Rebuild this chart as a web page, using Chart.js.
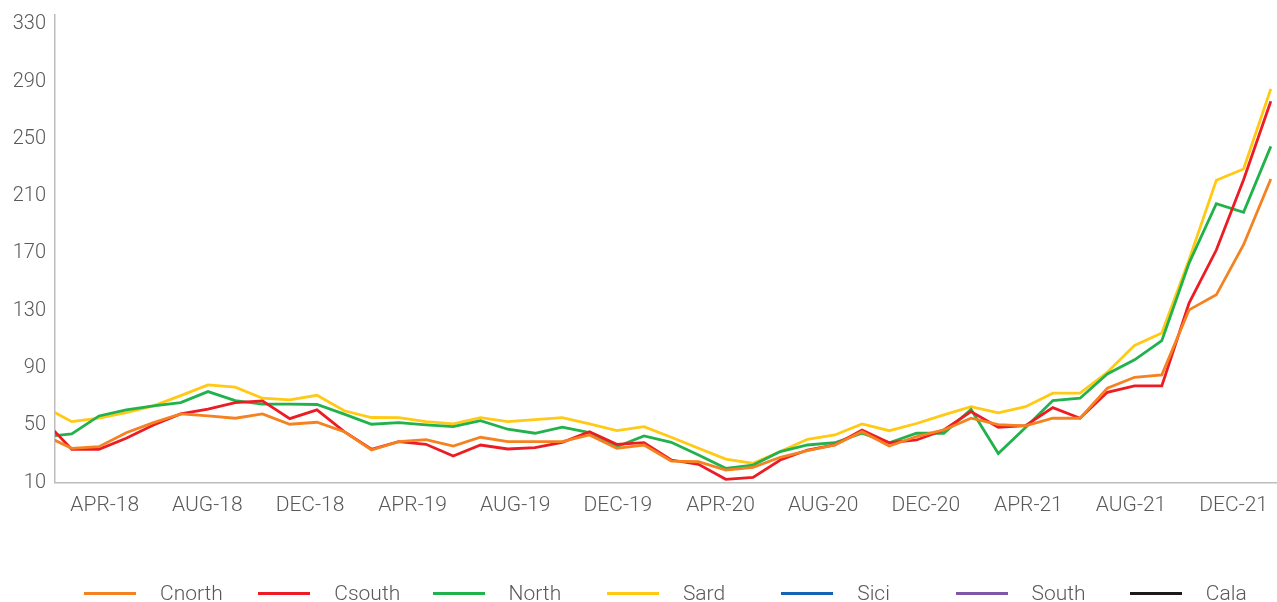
<!DOCTYPE html>
<html>
<head>
<meta charset="utf-8">
<script src="https://cdn.jsdelivr.net/npm/chart.js@4"></script>
<style>
  html, body { margin: 0; padding: 0; background: #ffffff; overflow: hidden; }
  #wrap { position: relative; width: 1277px; height: 602px; }
  #legend { position: absolute; left: 0; top: 580px; width: 1277px; height: 26px; font-family: Roboto, "Open Sans", sans-serif; font-weight: 300; font-size: 21px; color: #595959; }
  .item { position: absolute; top: 0; height: 26px; display: flex; align-items: center; white-space: nowrap; }
  .swatch { display: inline-block; width: 52px; height: 3px; margin-right: 24px; }
</style>
</head>
<body>
<div id="wrap">
  <canvas id="c"></canvas>
  <div id="legend"></div>
</div>
<script>
// ---- data ----
const seriesNames = ["Cnorth", "Csouth", "North", "Sard", "Sici", "South", "Cala"];
const seriesColors = ["#F58220", "#ED1C24", "#22B24C", "#FFC914", "#1563B5", "#7E57A8", "#1A1A1A"];

const cnorth = [42.9, 33.9, 35.0, 44.8, 51.8, 57.9, 56.5, 54.9, 57.9, 50.7, 52.1, 45.5, 32.7, 38.5, 40.0, 35.5,
  41.6, 38.5, 38.5, 38.5, 43.2, 33.9, 36.2, 25.0, 24.5, 18.7, 20.6, 27.6, 32.2, 36.2, 45.5, 35.5,
  42.1, 46.7, 54.9, 50.5, 49.5, 54.9, 54.9, 75.9, 83.5, 85.2, 130.6, 141.1, 176.1, 222.0];
const csouth = [53.1, 33.2, 33.2, 40.9, 50.2, 57.9, 61.2, 65.8, 67.0, 54.6, 60.7, 45.5, 33.2, 38.5, 36.7, 28.5,
  36.2, 33.4, 34.4, 38.1, 45.5, 36.7, 37.8, 25.7, 22.7, 12.2, 13.6, 25.7, 32.7, 36.2, 46.7, 37.8,
  39.7, 46.7, 59.5, 48.6, 49.7, 62.3, 54.9, 73.0, 77.5, 77.5, 135.3, 172.4, 221.5, 276.3];
const north = [42.1, 43.9, 56.5, 60.7, 63.5, 65.8, 73.5, 67.2, 64.7, 64.7, 64.5, 57.8, 50.7, 51.8, 50.2, 49.0,
  53.2, 47.2, 44.4, 48.6, 44.8, 35.0, 42.5, 38.1, 29.2, 19.9, 22.2, 31.6, 36.2, 37.8, 44.4, 37.8,
  44.4, 44.4, 61.0, 30.2, 48.5, 67.2, 68.9, 85.8, 95.7, 109.1, 163.3, 204.8, 198.7, 244.8];
const sard = [62.8, 52.5, 54.9, 58.8, 63.5, 70.7, 78.2, 76.6, 68.9, 67.7, 70.9, 60.1, 55.4, 55.3, 52.5, 50.9,
  55.3, 52.5, 53.9, 55.3, 50.9, 46.2, 49.0, 41.6, 33.9, 26.4, 23.4, 31.6, 40.2, 43.2, 50.9, 46.2,
  51.2, 57.2, 63.0, 58.6, 63.0, 72.4, 72.4, 87.0, 105.8, 114.5, 165.6, 221.1, 229.0, 285.0];
const sici = [];
const south = [];
const cala = [];

const tickLabels = ["APR-18", "AUG-18", "DEC-18", "APR-19", "AUG-19", "DEC-19",
  "APR-20", "AUG-20", "DEC-20", "APR-21", "AUG-21", "DEC-21"];
const yTicks = [10, 50, 90, 130, 170, 210, 250, 290, 330];

// ---- chart ----
const seriesData = [cnorth, csouth, north, sard, sici, south, cala];
const pointIndex = Array.from({ length: cnorth.length }, (_, i) => i);
const tickMonths = tickLabels.map((_, i) => 3 + 4 * i); // months since JAN-18

const textColor = "#595959";
const axisColor = "#bdbdbd";

const datasets = seriesNames.map((name, i) => ({
  label: name,
  data: seriesData[i],
  borderColor: seriesColors[i],
  backgroundColor: seriesColors[i],
  borderWidth: 2.8,
  pointRadius: 0,
  pointHoverRadius: 0,
  tension: 0,
  fill: false,
  xAxisID: "x",
  yAxisID: "y"
}));

new Chart(document.getElementById("c"), {
  type: "line",
  data: { labels: pointIndex, datasets },
  options: {
    responsive: true,
    maintainAspectRatio: false,
    animation: false,
    events: [],
    layout: { padding: { top: 15, right: 1, bottom: 0, left: 0 } },
    plugins: { legend: { display: false }, tooltip: { enabled: false } },
    scales: {
      x: {
        type: "linear",
        display: false,
        min: 0.387,
        max: 45.19
      },
      xl: {
        type: "linear",
        position: "bottom",
        min: 1.063,
        max: 48.65,
        grid: { display: false, drawTicks: false },
        border: { display: true, color: axisColor, width: 1.5 },
        afterFit: (s) => { s.height = 119.5; s.paddingLeft = 0; s.paddingRight = 0; },
        afterBuildTicks: (s) => { s.ticks = tickMonths.map(v => ({ value: v })); },
        ticks: {
          autoSkip: false,
          maxRotation: 0,
          minRotation: 0,
          padding: 11,
          color: textColor,
          font: { family: "Roboto, 'Open Sans', sans-serif", size: 21, weight: 300 },
          callback: (v) => { const i = tickMonths.indexOf(v); return i >= 0 ? tickLabels[i] : ""; }
        }
      },
      y: {
        type: "linear",
        min: 10,
        max: 336.6,
        grid: { display: false, drawTicks: false },
        border: { display: true, color: axisColor, width: 1.5 },
        afterFit: (s) => { s.width = 55; s.paddingTop = 0; s.paddingBottom = 0; },
        afterBuildTicks: (s) => { s.ticks = yTicks.map(v => ({ value: v })); },
        ticks: {
          padding: 9,
          color: textColor,
          font: { family: "Roboto, 'Open Sans', sans-serif", size: 20, weight: 300 }
        }
      }
    }
  }
});

// ---- legend (HTML text) ----
const legend = document.getElementById("legend");
seriesNames.forEach((name, i) => {
  const item = document.createElement("div");
  item.className = "item";
  item.style.left = (84 + i * 174.3) + "px";
  const sw = document.createElement("span");
  sw.className = "swatch";
  sw.style.background = seriesColors[i];
  const tx = document.createElement("span");
  tx.textContent = name;
  item.appendChild(sw);
  item.appendChild(tx);
  legend.appendChild(item);
});
</script>
</body>
</html>
